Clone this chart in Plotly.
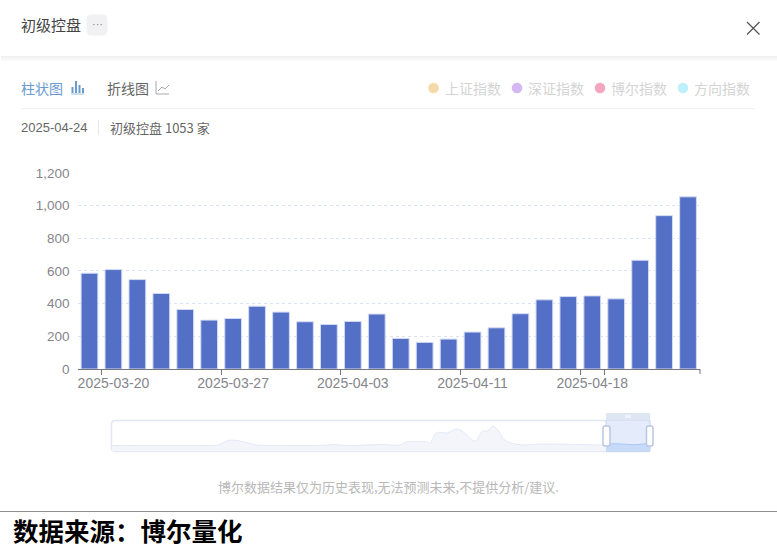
import plotly.graph_objects as go

W, H = 777, 556
CJK = "Noto Sans CJK SC"
LAT = "Liberation Sans"

# ---------- data ----------
dates = ["2025-03-19", "2025-03-20", "2025-03-21", "2025-03-24", "2025-03-25", "2025-03-26",
         "2025-03-27", "2025-03-28", "2025-03-31", "2025-04-01", "2025-04-02", "2025-04-03",
         "2025-04-07", "2025-04-08", "2025-04-09", "2025-04-10", "2025-04-11", "2025-04-14",
         "2025-04-15", "2025-04-16", "2025-04-17", "2025-04-18", "2025-04-21", "2025-04-22",
         "2025-04-23", "2025-04-24"]
values = [586, 608, 547, 462, 364, 299, 309, 384, 348, 289, 272, 291, 336,
          187, 163, 183, 226, 252, 338, 423, 443, 447, 429, 665, 938, 1053]
tick_dates = dates[1::5]
y_ticks = [0, 200, 400, 600, 800, 1000, 1200]
y_labels = ["0", "200", "400", "600", "800", "1,000", "1,200"]

overview_days = [0, 43, 63, 65, 70, 76, 82, 87, 99, 123, 132, 138, 160, 170, 174, 186, 188, 191,
                 193, 198, 204, 207, 213, 215, 219, 222, 225, 228, 232, 237, 243, 253, 292]
overview_vals = [780, 780, 850, 1100, 1480, 1350, 1000, 820, 780, 780, 900, 780, 900, 830, 1250,
                 1250, 1050, 2250, 2500, 2400, 2950, 2650, 1500, 1350, 2650, 2650, 3300, 2800,
                 1500, 1050, 850, 970, 820]
window_days = [292, 297, 303, 309, 314, 318]
window_vals = [900, 1000, 950, 880, 980, 1080]

legend_names = ["上证指数", "深证指数", "博尔指数", "方向指数"]
legend_colors = ["#F6D9A8", "#D3B8F3", "#F4A5C0", "#BDF0FC"]
legend_dot_x = [433.5, 517, 600, 683]
legend_text_x = [444, 527, 610, 693]


def px(x):
    return x / W


def py(y):
    return 1 - y / H


def rect(x0, y0, x1, y1, fill, line=None, lw=0, layer="above"):
    return dict(type="rect", xref="paper", yref="paper", x0=px(x0), x1=px(x1), y0=py(y0), y1=py(y1),
                fillcolor=fill, line=dict(color=line or fill, width=lw), layer=layer)


def seg(x0, y0, x1, y1, color, lw=1, layer="above"):
    return dict(type="line", xref="paper", yref="paper", x0=px(x0), x1=px(x1), y0=py(y0), y1=py(y1),
                line=dict(color=color, width=lw), layer=layer)


def rounded(x0, y0, x1, y1, r, fill, line, lw=1, layer="above"):
    X0, X1, Y0, Y1 = px(x0), px(x1), py(y0), py(y1)
    rx, ry = r / W, r / H
    p = (f"M{X0+rx},{Y0} L{X1-rx},{Y0} Q{X1},{Y0} {X1},{Y0-ry} L{X1},{Y1+ry} Q{X1},{Y1} {X1-rx},{Y1} "
         f"L{X0+rx},{Y1} Q{X0},{Y1} {X0},{Y1+ry} L{X0},{Y0-ry} Q{X0},{Y0} {X0+rx},{Y0} Z")
    return dict(type="path", xref="paper", yref="paper", path=p, fillcolor=fill,
                line=dict(color=line, width=lw), layer=layer)


def dot(cx, cy, r, fill):
    return dict(type="circle", xref="paper", yref="paper", x0=px(cx - r), x1=px(cx + r),
                y0=py(cy + r), y1=py(cy - r), fillcolor=fill, line=dict(width=0))


def text(x, y, s, size, color, anchor="left", family=CJK, **kw):
    return dict(xref="paper", yref="paper", x=px(x), y=py(y), text=s, showarrow=False, xanchor=anchor,
                yanchor="middle", align=anchor, font=dict(family=family, size=size, color=color),
                borderpad=0, **kw)


fig = go.Figure()
fig.add_trace(go.Bar(x=dates, y=values, width=0.7, xaxis="x", yaxis="y", name="初级控盘",
                     marker=dict(color="#5470C6", line=dict(color="#D3DBF3", width=1))))
fig.add_trace(go.Scatter(x=overview_days, y=overview_vals, xaxis="x2", yaxis="y2", mode="lines",
                         line=dict(color="#E3E8F5", width=1, shape="spline", smoothing=0.8), fill="tozeroy",
                         fillcolor="#F3F5FB", hoverinfo="skip"))
fig.add_trace(go.Scatter(x=window_days, y=window_vals, xaxis="x2", yaxis="y2", mode="lines",
                         line=dict(color="#A9C5F5", width=1, shape="spline"), fill="tozeroy",
                         fillcolor="#C8DAFA", hoverinfo="skip"))

shapes = [
    # header shadow
    rect(1, 56, W, 57.5, "#EFEFEF"), rect(1, 57.5, W, 59, "#F4F4F4"), rect(1, 59, W, 61, "#FAFAFA"),
    rounded(87, 15, 107, 35, 4, "#F1F1F4", "#F1F1F4"),
    seg(747, 22, 759.5, 34.5, "#555555", 1.3), seg(759.5, 22, 747, 34.5, "#555555", 1.3),
    # bar-chart tab icon
    rect(71.5, 87, 73.5, 93, "#6A9BCF"), rect(75, 81, 77, 93, "#6A9BCF"),
    rect(78.5, 85, 80.5, 93, "#6A9BCF"), rect(82, 88, 84, 93, "#6A9BCF"),
    seg(71, 94, 84.5, 94, "#9DBEE0", 1),
    # line-chart tab icon
    seg(156, 81, 156, 94, "#A8A8A8", 1), seg(156, 94, 169, 94, "#A8A8A8", 1),
    seg(158, 91, 162, 87, "#A8A8A8", 1), seg(162, 87, 165, 89, "#A8A8A8", 1),
    seg(165, 89, 169, 85, "#A8A8A8", 1),
    # dividers
    seg(21, 108.5, 755, 108.5, "#F0F0F0", 1),
    seg(98.5, 120, 98.5, 135, "#E8E8E8", 1),
    seg(0, 511.5, W, 511.5, "#8F8F8F", 1),
    # last axis tick
    dict(type="line", xref="x domain", yref="paper", x0=1, x1=1, y0=py(369), y1=py(374),
         line=dict(color="#77777D", width=1)),
    # overview frame and window
    rounded(111.5, 420.5, 650, 451.5, 4, "rgba(0,0,0,0)", "#E0E6F5", 1.5, "below"),
    rect(606, 420, 650, 451.5, "#E4ECFC", "#CBD5EC", 1, "below"),
    rect(606, 413, 650, 420, "#DFE6F3"),
    seg(626, 415, 626, 418, "#FFFFFF", 1), seg(628, 415, 628, 418, "#FFFFFF", 1),
    seg(630, 415, 630, 418, "#FFFFFF", 1),
    rounded(603, 426, 610, 446, 2, "#FFFFFF", "#B9C6E4", 1.5),
    rounded(646.5, 426, 653, 446, 2, "#FFFFFF", "#B9C6E4", 1.5),
]
for x, c in zip(legend_dot_x, legend_colors):
    shapes.append(dot(x, 88, 5.3, c))

annotations = [
    text(20, 25, "初级控盘", 15, "#444444"),
    text(97, 24, "···", 11, "#888888", "center", LAT),
    text(20, 87.5, "柱状图", 14, "#6A9BCF"),
    text(106, 87.5, "折线图", 14, "#666666"),
    text(20, 127.5, "2025-04-24", 13, "#666666", family=LAT),
    text(109, 127.5, "初级控盘 1053 家", 13, "#666666"),
    text(388, 486.5, "博尔数据结果仅为历史表现,无法预测未来,不提供分析/建议.", 13, "#B8B8B8", "center"),
    text(12, 529.5, "<b>数据来源：博尔量化</b>", 25.5, "#000000"),
]
for x, n in zip(legend_text_x, legend_names):
    annotations.append(text(x, 87.5, n, 14, "#D4D4D4"))

fig.update_layout(
    width=W, height=H, margin=dict(l=0, r=0, t=0, b=0, autoexpand=False), paper_bgcolor="#FFFFFF", plot_bgcolor="#FFFFFF",
    showlegend=False, bargap=0.3, shapes=shapes, annotations=annotations,
    xaxis=dict(domain=[px(77.5), px(700)], type="category", categoryorder="array", categoryarray=dates,
               range=[-0.5, 25.5], tickmode="array", tickvals=tick_dates, ticktext=tick_dates,
               tickson="boundaries", ticks="outside", ticklen=5, tickcolor="#77777D", showgrid=False,
               showline=True, linecolor="#77777D", linewidth=1.3, zeroline=False, ticklabelstandoff=1,
               tickfont=dict(family=LAT, size=14, color="#85858B"), tickangle=0, anchor="y"),
    yaxis=dict(domain=[py(369), py(172.8)], range=[0, 1200], tickmode="array", tickvals=y_ticks,
               ticktext=y_labels, showline=False, zeroline=False, gridcolor="#D8E2F3", griddash="dot",
               gridwidth=1, ticks="", ticklabelstandoff=7,
               tickfont=dict(family=LAT, size=13.5, color="#85858B"), anchor="x"),
    xaxis2=dict(domain=[px(112), px(650)], range=[0, 318], visible=False, anchor="y2"),
    yaxis2=dict(domain=[py(451.5), py(420.5)], range=[0, 4030], visible=False, anchor="x2"),
)

fig.write_html("out.html", config={"displayModeBar": False},
               post_script="document.body.style.margin='0';document.body.style.overflow='hidden';")
